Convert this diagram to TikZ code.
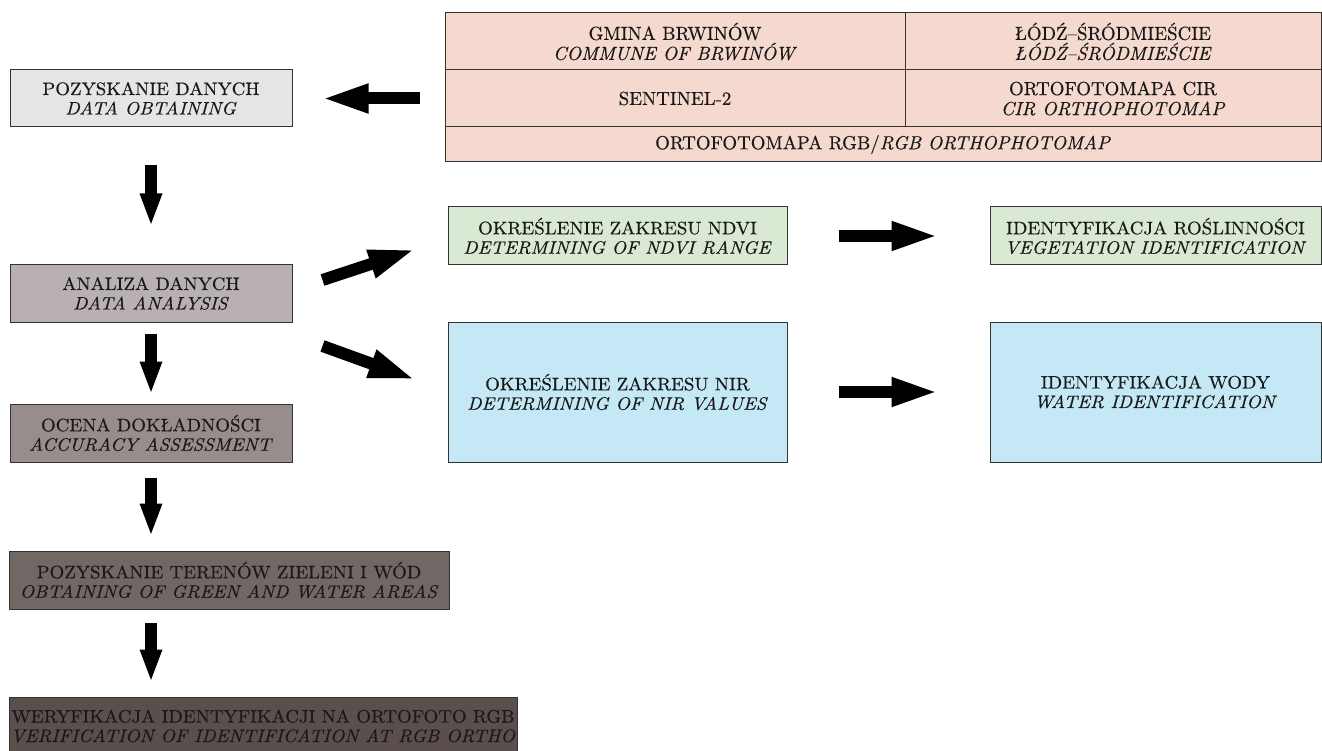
\documentclass[tikz,border=0pt]{standalone}
\usepackage{fontspec}
\setmainfont{lmroman10}[Extension=.otf,UprightFont=*-regular,ItalicFont=*-italic,
  FakeStretch=1.05,FakeBold=0.4]
\newfontfamily\tabelka{lmroman10}[Extension=.otf,UprightFont=*-regular,ItalicFont=*-italic,
  FakeBold=0.4]
\usetikzlibrary{arrows.meta,calc}
\definecolor{szary1}{HTML}{E5E5E5}
\definecolor{szary2}{HTML}{B9B1B1}
\definecolor{szary3}{HTML}{978E8B}
\definecolor{szary4}{HTML}{716866}
\definecolor{szary5}{HTML}{5A4F4D}
\definecolor{lososiowy}{HTML}{F5D9CE}
\definecolor{zielony}{HTML}{D9E9D3}
\definecolor{niebieski}{HTML}{C5E8F7}

\begin{document}
\begin{tikzpicture}[x=1pt,y=-1pt,
  box/.style={draw=black!80,line width=1pt,align=center,inner sep=0pt,text=black!90,
    font=\fontsize{18}{19.5}\selectfont},
  cell/.style={box,fill=lososiowy,font=\tabelka\fontsize{18.9}{20}\selectfont},
  bigarrow/.style={line width=12pt,-{Triangle[length=48pt,width=26pt]}},
  downarrow/.style={line width=12pt,-{Triangle[length=33pt,width=20pt]}}]
\useasboundingbox (0,0) rectangle (1322,751);

% lewa kolumna
\node [box,fill=szary1,minimum width=282,minimum height=57] (pozyskanie) at (151,98.5)
  {POZYSKANIE DANYCH\\\textit{DATA OBTAINING}};
\node [box,fill=szary2,minimum width=282,minimum height=57] (analiza) at (151,293.5)
  {ANALIZA DANYCH\\\textit{DATA ANALYSIS}};
\node [box,fill=szary3,minimum width=282,minimum height=58] (ocena) at (151,433)
  {OCENA DOKŁADNOŚCI\\\textit{ACCURACY ASSESSMENT}};
\node [box,fill=szary4,minimum width=440,minimum height=58] (tereny) at (229,580)
  {POZYSKANIE TERENÓW ZIELENI I WÓD\\\textit{OBTAINING OF GREEN AND WATER AREAS}};
\node [box,fill=szary5,minimum width=508,minimum height=58] (weryfikacja) at (263,726)
  {WERYFIKACJA IDENTYFIKACJI NA ORTOFOTO RGB\\\textit{VERIFICATION OF IDENTIFICATION AT RGB ORTHO}};

% dane
\node [cell,minimum width=460,minimum height=57] (gmina) at (675,41.5)
  {GMINA BRWINÓW\\\textit{COMMUNE OF BRWINÓW}};
\node [cell,minimum width=416,minimum height=57] (lodz) at (1113,41.5)
  {ŁÓDŹ–ŚRÓDMIEŚCIE\\\textit{ŁÓDŹ–ŚRÓDMIEŚCIE}};
\node [cell,minimum width=460,minimum height=57] (sentinel) at (675,98.5)
  {SENTINEL-2};
\node [cell,minimum width=416,minimum height=57] (cir) at (1113,98.5)
  {ORTOFOTOMAPA CIR\\\textit{CIR ORTHOPHOTOMAP}};
\node [cell,minimum width=876,minimum height=35] (rgb) at (883,144.5)
  {ORTOFOTOMAPA RGB/\textit{RGB ORTHOPHOTOMAP}};

% analiza
\node [box,fill=zielony,minimum width=339,minimum height=58] (ndvi) at (617.5,236)
  {OKREŚLENIE ZAKRESU NDVI\\\textit{DETERMINING OF NDVI RANGE}};
\node [box,fill=niebieski,minimum width=339,minimum height=140] (nir) at (617.5,392)
  {OKREŚLENIE ZAKRESU NIR\\\textit{DETERMINING OF NIR VALUES}};
\node [box,fill=zielony,minimum width=331,minimum height=58] (roslinnosc) at (1155.5,236)
  {IDENTYFIKACJA ROŚLINNOŚCI\\\textit{VEGETATION IDENTIFICATION}};
\node [box,fill=niebieski,minimum width=331,minimum height=140] (woda) at (1155.5,392)
  {IDENTYFIKACJA WODY\\\textit{WATER IDENTIFICATION}};

% strzalki
\draw [bigarrow,shorten <=25pt,shorten >=28pt] (sentinel.west) -- (pozyskanie.east);
\draw [downarrow,shorten <=38pt,shorten >=38pt] (pozyskanie.south) -- (analiza.north);
\draw [downarrow,shorten <=11pt,shorten >=9pt] (analiza.south) -- (ocena.north);
\draw [downarrow,shorten <=15pt,shorten >=14pt] (ocena.south) -- (ocena.south |- tereny.north);
\draw [downarrow,shorten <=13pt,shorten >=14pt] (ocena.south |- tereny.south) -- (ocena.south |- weryfikacja.north);
\draw [bigarrow] ($(analiza.east)+(30,-13.5)$) -- ($(ndvi.west)+(-31,13)$);
\draw [bigarrow] ($(analiza.east)+(30,52.5)$) -- ($(nir.west)+(-31,-12)$);
\draw [bigarrow,shorten <=51pt,shorten >=50pt] (ndvi.east) -- (roslinnosc.west);
\draw [bigarrow,shorten <=51pt,shorten >=50pt] (nir.east) -- (woda.west);
\end{tikzpicture}
\end{document}
